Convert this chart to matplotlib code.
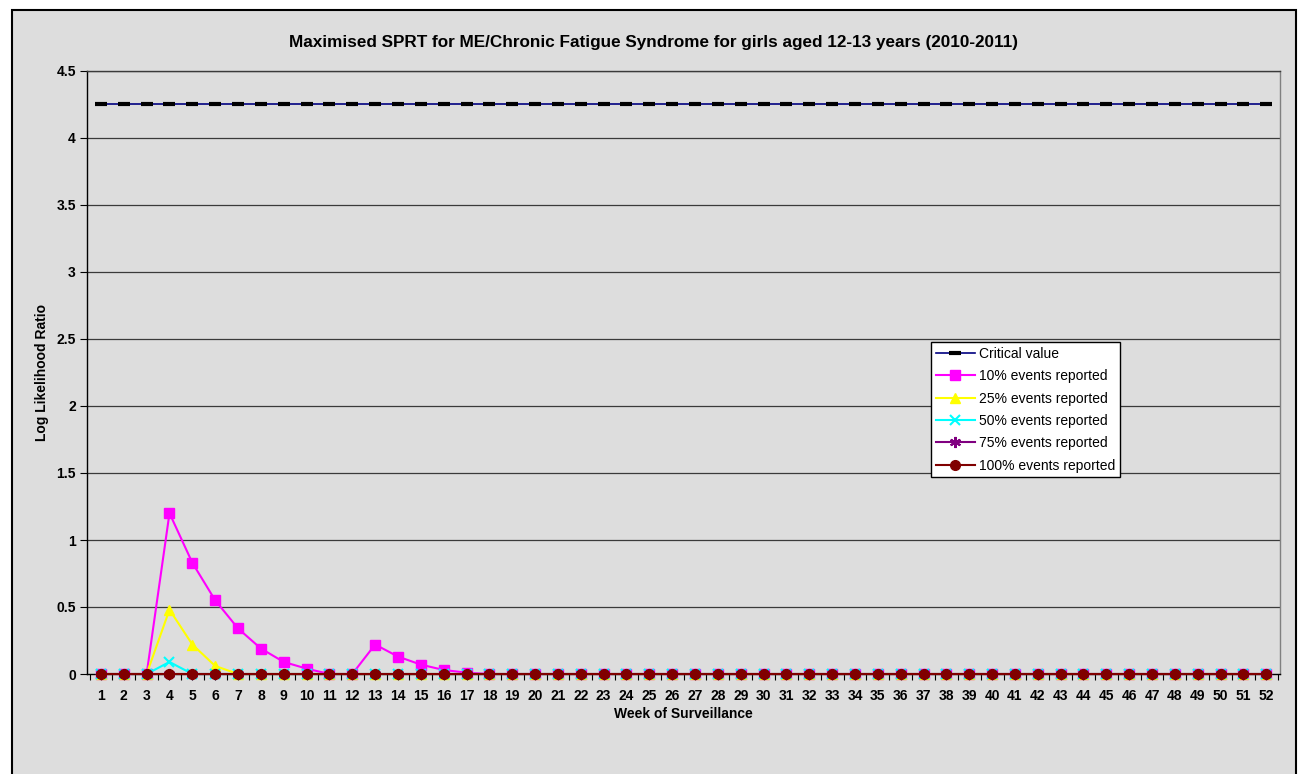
import matplotlib
matplotlib.use("Agg")
import matplotlib.pyplot as plt
from matplotlib.patches import Rectangle
import numpy as np

plt.rcParams['font.family'] = ['Liberation Sans', 'DejaVu Sans']

weeks = list(range(1, 53))
critical = [4.25] * 52
p10 = [0, 0, 0, 1.20, 0.83, 0.55, 0.34, 0.19, 0.09, 0.04, 0, 0, 0.22, 0.13, 0.07, 0.03, 0.01] + [0] * 35
p25 = [0, 0, 0, 0.48, 0.22, 0.06, 0] + [0] * 45
p50 = [0, 0, 0, 0.09, 0] + [0] * 47
p75 = [0] * 52
p100 = [0] * 52

yticks = [0, 0.5, 1, 1.5, 2, 2.5, 3, 3.5, 4, 4.5]
ytick_labels = ['0', '0.5', '1', '1.5', '2', '2.5', '3', '3.5', '4', '4.5']

W, H = 1306, 774
fig = plt.figure(figsize=(W / 100, H / 100), dpi=100, facecolor='white')
bg = '#DDDDDD'
fig.patches.append(Rectangle((12 / W, -0.05), (1296 - 12) / W, 1 - 10 / H + 0.05,
                             transform=fig.transFigure, facecolor=bg,
                             edgecolor='black', linewidth=1.5, zorder=-10))

ax = fig.add_axes([87 / W, 1 - 674 / H, (1280 - 87) / W, (674 - 71) / H])
ax.set_facecolor(bg)

for y in yticks[1:]:
    ax.axhline(y, color='#3a3a3a', linewidth=0.9, zorder=1)

common = dict(linewidth=1.5, zorder=3, clip_on=False)
ax.plot(weeks, critical, color='#000080', linewidth=1.2, marker='_', markersize=8,
        markeredgewidth=3, markeredgecolor='black', label='Critical value', zorder=3)
ax.plot(weeks, p10, color='#FF00FF', marker='s', markersize=7,
        markerfacecolor='#FF00FF', markeredgecolor='#FF00FF', label='10% events reported', **common)
ax.plot(weeks, p25, color='#FFFF00', marker='^', markersize=7,
        markerfacecolor='#FFFF00', markeredgecolor='#FFFF00', label='25% events reported', **common)
ax.plot(weeks, p50, color='#00FFFF', marker='x', markersize=7,
        markeredgewidth=1.5, label='50% events reported', **common)
ax.plot(weeks, p75, color='#800080', marker=(6, 2, 0), markersize=8,
        markeredgewidth=1.5, label='75% events reported', **common)
ax.plot(weeks, p100, color='#800000', marker='o', markersize=7,
        markerfacecolor='#800000', markeredgecolor='#800000', label='100% events reported', **common)

ax.set_xlim(0.39, 52.6)
ax.set_ylim(0, 4.5)
ax.set_yticks(yticks)
ax.set_yticklabels(ytick_labels, fontsize=10, fontweight='bold')
ax.set_xticks(weeks)
ax.set_xticklabels([str(w) for w in weeks], fontsize=10, fontweight='bold')
ax.set_xticks(np.arange(0.5, 53, 1.0), minor=True)
ax.tick_params(axis='x', which='major', length=4, direction='out', pad=7, width=0.8)
ax.tick_params(axis='x', which='minor', length=4, direction='out', width=0.8)
ax.tick_params(axis='y', length=5, direction='out', pad=3, width=0.8)

ax.spines['left'].set_color('black')
ax.spines['bottom'].set_color('black')
ax.spines['top'].set_color('#3a3a3a')
ax.spines['right'].set_color('#808080')
for s in ax.spines.values():
    s.set_linewidth(1.0)

ax.set_xlabel('Week of Surveillance', fontsize=10, fontweight='bold', labelpad=3)
ax.set_ylabel('Log Likelihood Ratio', fontsize=10, fontweight='bold', labelpad=5)
fig.text(654 / W, 1 - 42 / H,
         'Maximised SPRT for ME/Chronic Fatigue Syndrome for girls aged 12-13 years (2010-2011)',
         ha='center', va='center', fontsize=12.3, fontweight='bold')

leg = ax.legend(loc='upper left', bbox_to_anchor=((931 - 87) / 1193, (674 - 342) / 603),
                fontsize=10, frameon=True, fancybox=False, framealpha=1,
                edgecolor='black', borderpad=0.35, labelspacing=0.6,
                handlelength=2.8, handletextpad=0.3, borderaxespad=0)
leg.get_frame().set_linewidth(1.0)

fig.savefig('out.png', dpi=100, facecolor='white')
